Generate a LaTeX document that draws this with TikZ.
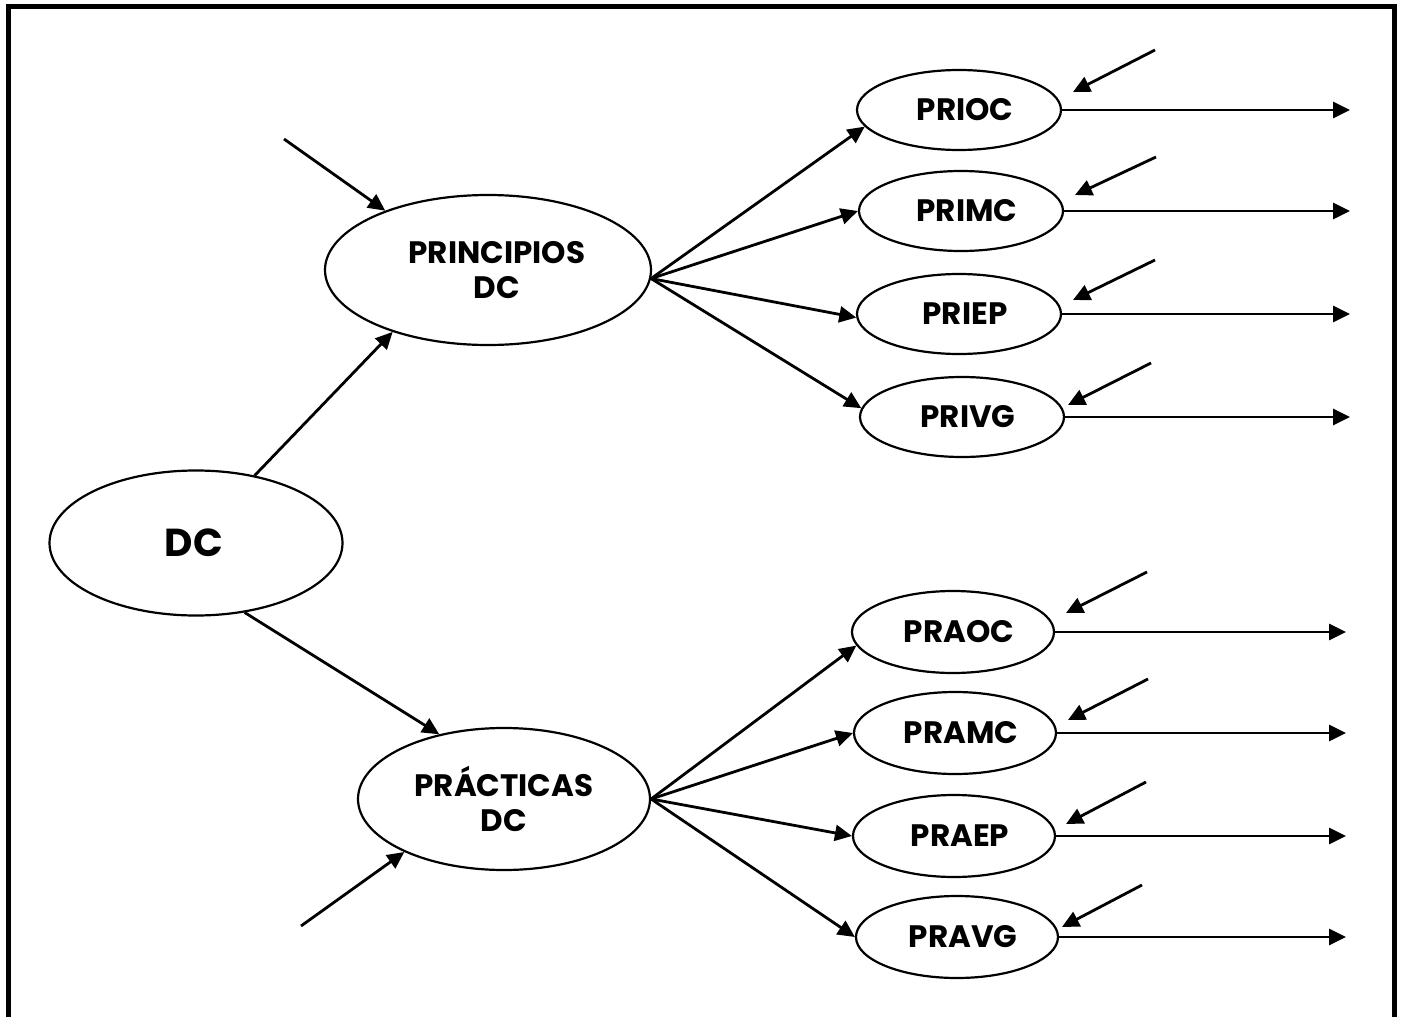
\documentclass[tikz,border=0pt]{standalone}
\usepackage{fontspec}
\setmainfont{Poppins}
\usetikzlibrary{arrows.meta,shapes.geometric}
\begin{document}
\begin{tikzpicture}[x=1pt,y=-1pt,
  ell/.style={draw,ellipse,line width=2.2pt,inner sep=0pt},
  upper/.style={ell,minimum width=204pt,minimum height=80pt},
  lower/.style={ell,minimum width=202pt,minimum height=82pt},
  lbl/.style={font=\bfseries\fontsize{31}{35}\selectfont,align=center,inner sep=0pt},
  arr/.style={line width=2.8pt,-{Triangle[length=17pt,width=16pt]}}]
\useasboundingbox (0,0) rectangle (1401,1017);

% open frame (no bottom edge)
\draw[line width=5pt] (8,1017) -- (8,6) -- (1394,6) -- (1394,1017);

% root and the two branches
\node[ell,minimum width=293pt,minimum height=145pt,
      label={[lbl,font=\bfseries\fontsize{39}{40}\selectfont,xshift=-2pt]center:DC}] (dc) at (196,543) {};
\node[ell,minimum width=326pt,minimum height=150pt,
      label={[lbl,xshift=9pt]center:PRINCIPIOS\\DC}] (pri) at (488,270) {};
\node[ell,minimum width=292pt,minimum height=142pt,
      label={[lbl]center:PRÁCTICAS\\DC}] (prac) at (504,799) {};

% principle leaves
\node[upper,label={[lbl,xshift=6pt]center:PRIOC}] (prioc) at (959,110) {};
\node[upper,label={[lbl,xshift=6pt]center:PRIMC}] (primc) at (961,211) {};
\node[upper,label={[lbl,xshift=6pt]center:PRIEP}] (priep) at (959,314) {};
\node[upper,label={[lbl,xshift=6pt]center:PRIVG}] (privg) at (962,417) {};

% practice leaves
\node[lower,label={[lbl,xshift=6pt]center:PRAOC}] (praoc) at (953,632) {};
\node[lower,label={[lbl,xshift=6pt]center:PRAMC}] (pramc) at (955,733) {};
\node[lower,label={[lbl,xshift=6pt]center:PRAEP}] (praep) at (954,836) {};
\node[lower,label={[lbl,xshift=6pt]center:PRAVG}] (pravg) at (957,937) {};

% free ends
\coordinate (inpri) at (284,139);
\coordinate (inprac) at (301,926);
\coordinate (xr1) at (1350,0);
\coordinate (xr2) at (1346,0);
\coordinate (s1) at (1155,50);
\coordinate (s2) at (1156,157);
\coordinate (s3) at (1155,260);
\coordinate (s4) at (1151,363);
\coordinate (s5) at (1147,572);
\coordinate (s6) at (1148,679);
\coordinate (s7) at (1146,782);
\coordinate (s8) at (1142,885);

% root to branches
\draw[arr] (dc.49) -- (pri.213);
\draw[arr] (dc.305) -- (prac.135);
\draw[arr] (inpri) -- (pri.150);
\draw[arr] (inprac) -- (prac.208);

% branch fans
\draw[arr] (pri.357) -- (prioc.190);
\draw[arr] (pri.357) -- (primc.180);
\draw[arr] (pri.357) -- (priep.182);
\draw[arr] (pri.357) -- (privg.175);
\draw[arr] (prac.east) -- (praoc.188);
\draw[arr] (prac.east) -- (pramc.180);
\draw[arr] (prac.east) -- (praep.180);
\draw[arr] (prac.east) -- (pravg.180);

% incoming short arrows at the leaves
\draw[arr] (s1) -- ([shift={(114,-18)}]prioc.center);
\draw[arr] (s2) -- ([shift={(114,-16)}]primc.center);
\draw[arr] (s3) -- ([shift={(114,-14)}]priep.center);
\draw[arr] (s4) -- ([shift={(106,-12)}]privg.center);
\draw[arr] (s5) -- ([shift={(113,-19)}]praoc.center);
\draw[arr] (s6) -- ([shift={(113,-13)}]pramc.center);
\draw[arr] (s7) -- ([shift={(112,-12)}]praep.center);
\draw[arr] (s8) -- ([shift={(105,-10)}]pravg.center);

% outgoing arrows
\foreach \n in {prioc,primc,priep,privg}
  \draw[arr] (\n.east) -- (\n.east -| xr1);
\foreach \n in {praoc,pramc,praep,pravg}
  \draw[arr] (\n.east) -- (\n.east -| xr2);
\end{tikzpicture}
\end{document}
